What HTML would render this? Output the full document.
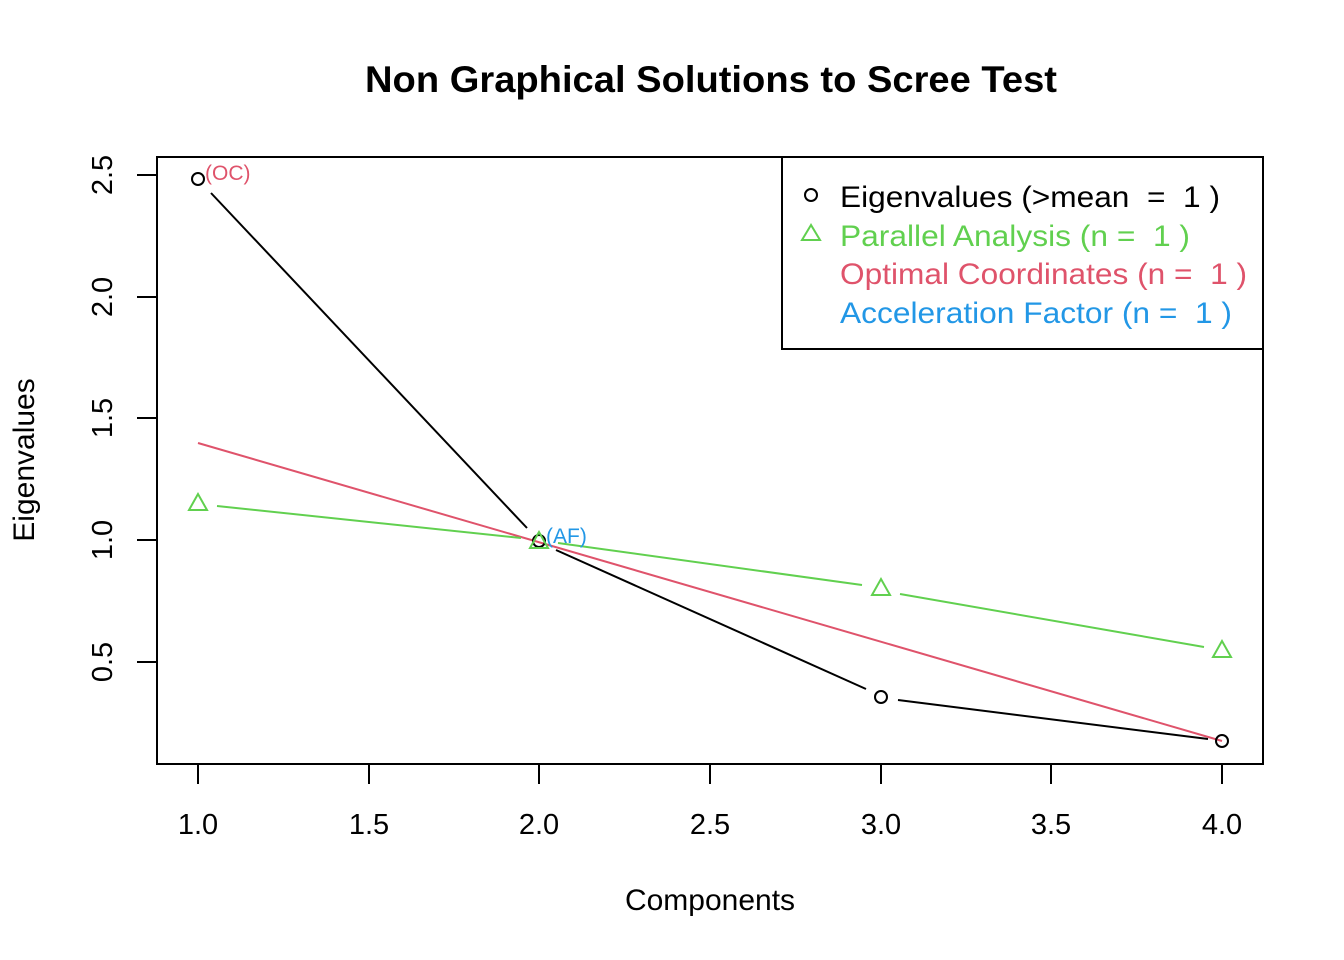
<!DOCTYPE html>
<html><head><style>body{margin:0;background:#fff}svg{display:block}</style></head><body>
<svg width="1344" height="960" xmlns="http://www.w3.org/2000/svg" font-family="Liberation Sans, Arial, sans-serif">
<rect width="1344" height="960" fill="#fff"/>
<text x="365" y="92" font-size="37" font-weight="bold" textLength="692" lengthAdjust="spacingAndGlyphs">Non Graphical Solutions to Scree Test</text>
<rect x="157" y="157" width="1106" height="607" fill="none" stroke="#000" stroke-width="2"/>
<g stroke="#000" stroke-width="2">
<line x1="198" y1="764" x2="1222" y2="764"/>
<line x1="198" y1="764" x2="198" y2="784"/><line x1="369" y1="764" x2="369" y2="784"/><line x1="539" y1="764" x2="539" y2="784"/><line x1="710" y1="764" x2="710" y2="784"/><line x1="881" y1="764" x2="881" y2="784"/><line x1="1051" y1="764" x2="1051" y2="784"/><line x1="1222" y1="764" x2="1222" y2="784"/>
<line x1="157" y1="175" x2="157" y2="662"/>
<line x1="137" y1="175" x2="157" y2="175"/><line x1="137" y1="297" x2="157" y2="297"/><line x1="137" y1="418" x2="157" y2="418"/><line x1="137" y1="540" x2="157" y2="540"/><line x1="137" y1="662" x2="157" y2="662"/>
</g>
<g font-size="29" text-anchor="middle">
<text x="198" y="834">1.0</text><text x="369" y="834">1.5</text><text x="539" y="834">2.0</text><text x="710" y="834">2.5</text><text x="881" y="834">3.0</text><text x="1051" y="834">3.5</text><text x="1222" y="834">4.0</text>
<text transform="translate(112,175) rotate(-90)">2.5</text>
<text transform="translate(112,297) rotate(-90)">2.0</text>
<text transform="translate(112,418) rotate(-90)">1.5</text>
<text transform="translate(112,540) rotate(-90)">1.0</text>
<text transform="translate(112,662) rotate(-90)">0.5</text>
<text x="710" y="910" font-size="30">Components</text>
<text transform="translate(34,460) rotate(-90)" font-size="30">Eigenvalues</text>
</g>
<line x1="198" y1="443" x2="1222" y2="741" stroke="#DF536B" stroke-width="2"/>
<g stroke="#000" stroke-width="2" fill="none">
<line x1="211" y1="193" x2="527" y2="528"/>
<line x1="556" y1="550" x2="866" y2="689"/>
<line x1="898" y1="700" x2="1208" y2="739"/>
<circle cx="198" cy="179" r="6"/><circle cx="539" cy="541" r="6"/><circle cx="881" cy="697" r="6"/><circle cx="1222" cy="741" r="6"/>
</g>
<g stroke="#61D04F" stroke-width="2" fill="none">
<line x1="217" y1="506" x2="521" y2="538"/>
<line x1="558" y1="543" x2="862" y2="585"/>
<line x1="900" y1="594" x2="1204" y2="647"/>
<polygon points="198,494 189,510 207,510"/>
<polygon points="539,532 530,548 548,548"/>
<polygon points="881,579 872,595 890,595"/>
<polygon points="1222,641 1213,657 1231,657"/>
</g>
<text x="205" y="180" font-size="21" fill="#DF536B">(OC)</text>
<text x="546" y="543" font-size="21" fill="#2297E6">(AF)</text>
<rect x="782" y="157" width="481" height="192" fill="none" stroke="#000" stroke-width="2"/>
<circle cx="811" cy="195" r="6" fill="none" stroke="#000" stroke-width="2"/>
<polygon points="811,225 802,240 820,240" fill="none" stroke="#61D04F" stroke-width="2"/>
<g font-size="30" lengthAdjust="spacingAndGlyphs">
<text x="840" y="207" textLength="380" lengthAdjust="spacingAndGlyphs">Eigenvalues (&gt;mean &#160;= &#160;1 )</text>
<text x="840" y="246" fill="#61D04F" textLength="350" lengthAdjust="spacingAndGlyphs">Parallel Analysis (n = &#160;1 )</text>
<text x="840" y="284" fill="#DF536B" textLength="407" lengthAdjust="spacingAndGlyphs">Optimal Coordinates (n = &#160;1 )</text>
<text x="840" y="323" fill="#2297E6" textLength="392" lengthAdjust="spacingAndGlyphs">Acceleration Factor (n = &#160;1 )</text>
</g>
</svg>
</body></html>
